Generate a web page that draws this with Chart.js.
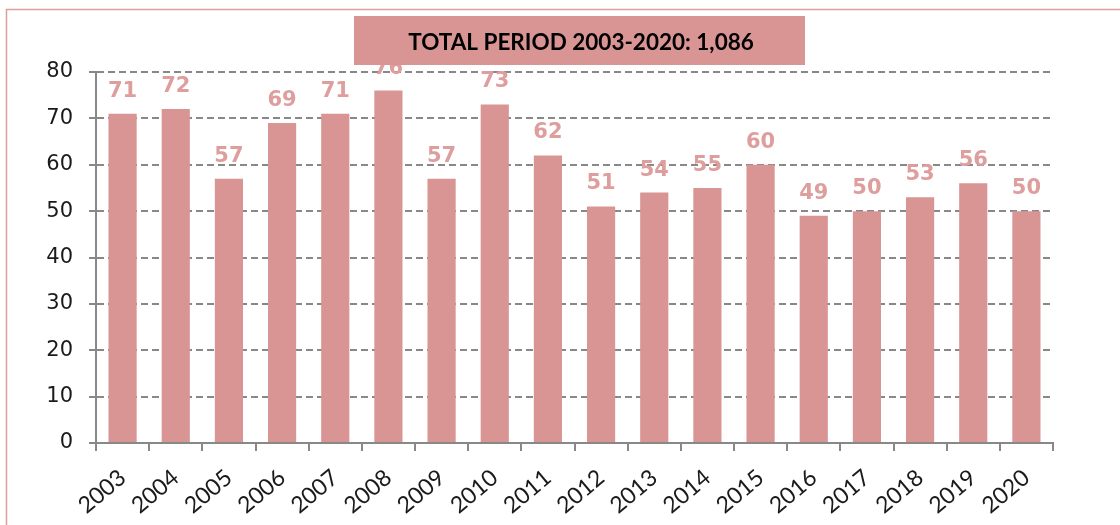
<!DOCTYPE html>
<html><head><meta charset="utf-8">
<script src="https://cdn.jsdelivr.net/npm/chart.js@4/dist/chart.umd.min.js"></script>
<style>html,body{margin:0;padding:0;background:#fff;}#wrap{width:1120px;height:525px;position:relative;}</style>
</head><body><div id="wrap"><canvas id="c" width="1120" height="525"></canvas></div>
<script>
const years = ['2003','2004','2005','2006','2007','2008','2009','2010','2011','2012','2013','2014','2015','2016','2017','2018','2019','2020'];
const values = [71,72,57,69,71,76,57,73,62,51,54,55,60,49,50,53,56,50];
const yTickValues = [0,10,20,30,40,50,60,70,80];
const totalTitle = 'TOTAL PERIOD 2003-2020: 1,086';

const BAR = '#D99594';

const framePlugin = {
  id: 'frame',
  beforeDraw(chart) {
    const ctx = chart.ctx;
    ctx.save();
    ctx.fillStyle = '#fff';
    ctx.fillRect(0, 0, chart.width, chart.height);
    ctx.strokeStyle = '#E29C9B';
    ctx.lineWidth = 1.5;
    ctx.beginPath();
    ctx.moveTo(6.5, chart.height);
    ctx.lineTo(6.5, 9.5);
    ctx.lineTo(chart.width, 9.5);
    ctx.stroke();
    ctx.restore();
  }
};

const valueLabels = {
  id: 'valueLabels',
  afterDatasetsDraw(chart) {
    const ctx = chart.ctx;
    const meta = chart.getDatasetMeta(0);
    ctx.save();
    ctx.font = 'bold 21px "DejaVu Sans"';
    ctx.fillStyle = '#DE9E9D';
    ctx.textAlign = 'center';
    ctx.textBaseline = 'alphabetic';
    meta.data.forEach((el, i) => {
      ctx.fillText(String(values[i]), el.x, el.y - 17);
    });
    ctx.restore();
  }
};

const titleBox = {
  id: 'titleBox',
  afterDraw(chart) {
    const ctx = chart.ctx;
    ctx.save();
    ctx.fillStyle = BAR;
    ctx.fillRect(354, 16, 451, 49);
    ctx.fillStyle = '#000';
    ctx.font = 'bold 22.5px Lato';
    ctx.textAlign = 'center';
    ctx.textBaseline = 'alphabetic';
    ctx.fillText(totalTitle, 581, 50);
    ctx.restore();
  }
};

new Chart(document.getElementById('c'), {
  type: 'bar',
  data: {
    labels: years,
    datasets: [{
      data: values,
      backgroundColor: BAR,
      borderWidth: 0,
      categoryPercentage: 1,
      barPercentage: 0.53
    }]
  },
  options: {
    responsive: false,
    animation: false,
    devicePixelRatio: 1,
    layout: { padding: { left: 0, right: 67, top: 72, bottom: 0 } },
    plugins: { legend: { display: false }, tooltip: { enabled: false }, title: { display: false } },
    scales: {
      x: {
        grid: { display: true, drawOnChartArea: false, drawTicks: true, tickLength: 8, color: '#888', lineWidth: 2, offset: true },
        border: { display: true, color: '#888', width: 2 },
        ticks: { font: { family: 'Lato', size: 23 }, color: '#1a1a1a', minRotation: 40, maxRotation: 40, padding: 13, autoSkip: false },
        afterFit: s => { s.height = 82; }
      },
      y: {
        min: 0, max: 80,
        afterBuildTicks: s => { s.ticks = yTickValues.map(v => ({ value: v })); },
        ticks: { font: { family: 'DejaVu Sans', size: 21 }, color: '#1a1a1a', padding: 16 },
        grid: { color: '#888', lineWidth: 2, tickLength: 7, drawTicks: true, tickBorderDash: [] },
        border: { display: true, color: '#888', width: 2, dash: [7, 4] },
        afterFit: s => { s.width = 96; }
      }
    }
  },
  plugins: [framePlugin, valueLabels, titleBox]
});
</script>
</body></html>
